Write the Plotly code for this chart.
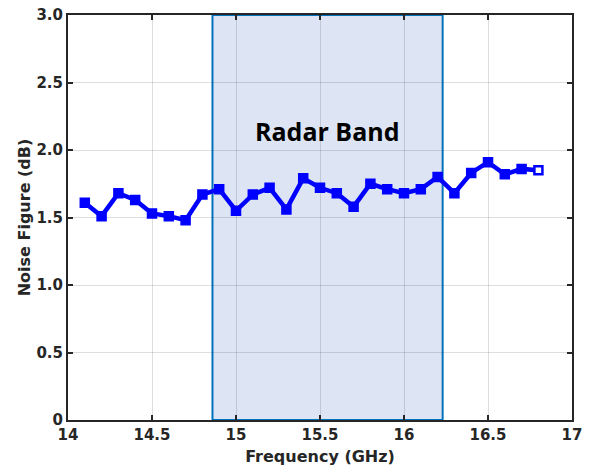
import plotly.graph_objects as go

# Measured noise figure across the sweep
freq_ghz = [14.1, 14.2, 14.3, 14.4, 14.5, 14.6, 14.7, 14.8, 14.9, 15.0,
            15.1, 15.2, 15.3, 15.4, 15.5, 15.6, 15.7, 15.8, 15.9, 16.0,
            16.1, 16.2, 16.3, 16.4, 16.5, 16.6, 16.7, 16.8]
noise_figure_db = [1.61, 1.51, 1.68, 1.63, 1.53, 1.51, 1.48, 1.67, 1.71, 1.55,
                   1.67, 1.72, 1.56, 1.79, 1.72, 1.68, 1.58, 1.75, 1.71, 1.68,
                   1.71, 1.80, 1.68, 1.83, 1.91, 1.82, 1.86, 1.85]

radar_band = [14.86, 16.23]
band_label = "Radar Band"

x_ticks = [14, 14.5, 15, 15.5, 16, 16.5, 17]
x_tick_text = ["14", "14.5", "15", "15.5", "16", "16.5", "17"]
y_ticks = [0, 0.5, 1.0, 1.5, 2.0, 2.5, 3.0]
y_tick_text = ["0", "0.5", "1.0", "1.5", "2.0", "2.5", "3.0"]

BLUE = "#0000ff"
AXIS = "#262626"
FONT = "DejaVu Sans"

marker_fill = [BLUE] * (len(freq_ghz) - 1) + ["white"]

fig = go.Figure()
fig.add_trace(go.Scatter(
    x=freq_ghz, y=noise_figure_db, mode="lines+markers",
    line=dict(color=BLUE, width=4.5),
    marker=dict(symbol="square", size=8, color=marker_fill,
                line=dict(color=BLUE, width=2.5)),
    showlegend=False,
))

# Shaded radar band
fig.add_shape(type="rect", xref="x", yref="y",
              x0=radar_band[0], x1=radar_band[1], y0=0, y1=3,
              fillcolor="#dde5f4", line=dict(color="#0072bd", width=2),
              layer="below")
fig.add_annotation(x=sum(radar_band) / 2, y=2.14, text=f"<b>{band_label}</b>",
                   showarrow=False, font=dict(family="Open Sans", size=25, color="black"))

axis_common = dict(
    showline=True, linecolor=AXIS, linewidth=2, mirror="ticks",
    ticks="inside", ticklen=5, tickwidth=1.5, tickcolor=AXIS,
    showgrid=True, gridcolor="rgba(0,0,0,0.13)", gridwidth=1,
    zeroline=False, automargin=False,
    tickfont=dict(family=FONT, size=15, color=AXIS, weight="bold"),
)

fig.update_xaxes(range=[14, 17], tickvals=x_ticks, ticktext=x_tick_text,
                 title=dict(text="<b>Frequency (GHz)</b>", standoff=8,
                            font=dict(family=FONT, size=16, color=AXIS)),
                 **axis_common)
fig.update_yaxes(range=[0, 3], tickvals=y_ticks, ticktext=y_tick_text,
                 title=dict(text="<b>Noise Figure (dB)</b>", standoff=2,
                            font=dict(family=FONT, size=16, color=AXIS)),
                 **axis_common)

fig.update_layout(
    width=591, height=468,
    margin=dict(l=68, r=19, t=15, b=48),
    plot_bgcolor="white", paper_bgcolor="white",
    font=dict(family=FONT),
)

fig.write_html("out.html")
